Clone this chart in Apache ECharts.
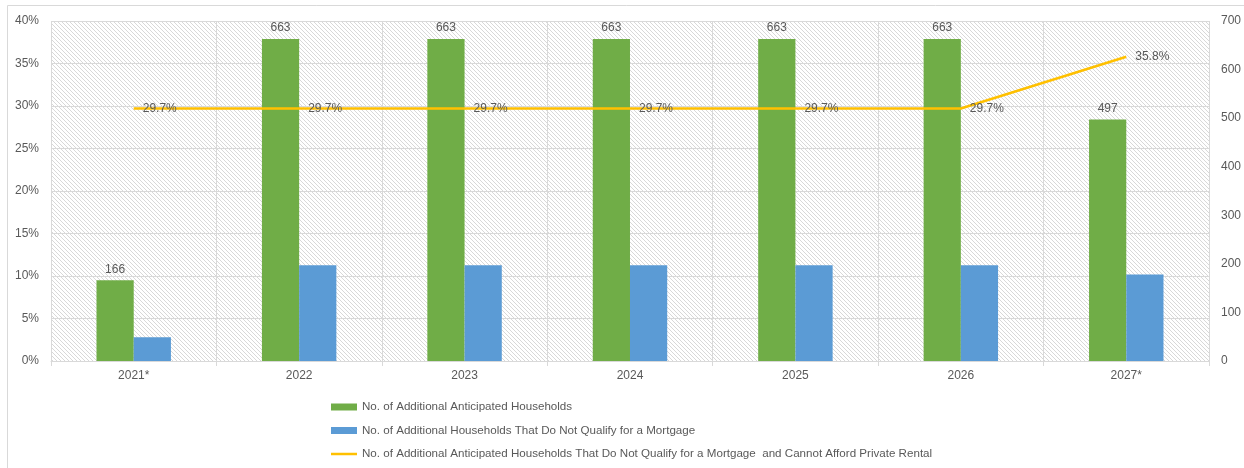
<!DOCTYPE html>
<html>
<head>
<meta charset="utf-8">
<script src="https://cdn.jsdelivr.net/npm/echarts@6/dist/echarts.min.js"></script>
<style>
html,body{margin:0;padding:0;background:#fff;}
#c{width:1244px;height:468px;}
</style>
</head>
<body>
<div id="c"></div>
<script>
const categories = ['2021*', '2022', '2023', '2024', '2025', '2026', '2027*'];
const anticipated = [166, 663, 663, 663, 663, 663, 497];
const notQualify = [49, 197, 197, 197, 197, 197, 178];
const cannotAfford = [0.297, 0.297, 0.297, 0.297, 0.297, 0.297, 0.358];
const seriesNames = [
  'No. of Additional Anticipated Households',
  'No. of Additional Households That Do Not Qualify for a Mortgage',
  'No. of Additional Anticipated Households That Do Not Qualify for a Mortgage  and Cannot Afford Private Rental'
];

function hatch() {
  const s = 4;
  const cv = document.createElement('canvas');
  cv.width = s; cv.height = s;
  const ctx = cv.getContext('2d');
  ctx.fillStyle = '#ffffff';
  ctx.fillRect(0, 0, s, s);
  ctx.strokeStyle = '#d8d8d8';
  ctx.lineWidth = 1;
  ctx.beginPath();
  ctx.moveTo(-1, -1); ctx.lineTo(s + 1, s + 1);
  ctx.moveTo(-1 - s, -1); ctx.lineTo(1, s + 1);
  ctx.moveTo(s - 1, -1); ctx.lineTo(2 * s + 1, s + 1);
  ctx.stroke();
  return cv;
}

const font = 'Liberation Sans';
const grey = '#595959';
const chart = echarts.init(document.getElementById('c'), null, {renderer: 'canvas'});
chart.setOption({
  animation: false,
  textStyle: {fontFamily: font},
  graphic: [{
    type: 'rect', z: -10,
    shape: {x: 7.5, y: 5.5, width: 1400, height: 600},
    style: {fill: 'none', stroke: '#d9d9d9', lineWidth: 1}
  }],
  grid: {
    left: 51, right: 33, top: 21, bottom: 107,
    show: true,
    borderWidth: 0,
    backgroundColor: {image: hatch(), repeat: 'repeat'}
  },
  legend: {
    orient: 'vertical',
    left: 326, top: 396,
    itemWidth: 26, itemHeight: 7, itemGap: 11.5,
    textStyle: {color: grey, fontSize: 11.6, fontFamily: font},
    data: [
      {name: seriesNames[0], icon: 'rect'},
      {name: seriesNames[1], icon: 'rect'},
      {name: seriesNames[2], icon: 'path://M0,0 H26 V2.5 H0 Z'}
    ]
  },
  xAxis: {
    type: 'category',
    data: categories,
    axisLine: {lineStyle: {color: '#d9d9d9'}},
    axisTick: {show: true, length: 5, lineStyle: {color: '#d9d9d9'}},
    axisLabel: {color: grey, fontSize: 12, margin: 9},
    splitLine: {show: true, lineStyle: {color: '#d9d9d9'}}
  },
  yAxis: [{
    type: 'value', min: 0, max: 0.4, interval: 0.05,
    axisLine: {show: false}, axisTick: {show: false},
    axisLabel: {color: grey, fontSize: 12, margin: 12,
      formatter: v => Math.round(v * 100) + '%'},
    splitLine: {show: true, lineStyle: {color: '#d9d9d9'}}
  }, {
    type: 'value', min: 0, max: 700, interval: 100,
    axisLine: {show: false}, axisTick: {show: false},
    axisLabel: {color: grey, fontSize: 12, margin: 12},
    splitLine: {show: false}
  }],
  series: [{
    name: seriesNames[0], type: 'bar', yAxisIndex: 1,
    data: anticipated, barWidth: '22.5%', barGap: '0%',
    itemStyle: {color: '#70AD47'},
    label: {show: true, position: 'top', distance: 5, color: grey, fontSize: 12}
  }, {
    name: seriesNames[1], type: 'bar', yAxisIndex: 1,
    data: notQualify, barWidth: '22.5%', barGap: '0%',
    itemStyle: {color: '#5B9BD5'}
  }, {
    name: seriesNames[2], type: 'line', yAxisIndex: 0,
    data: cannotAfford, symbol: 'circle', symbolSize: 0.01, showSymbol: true,
    lineStyle: {color: '#FFC000', width: 2.5},
    itemStyle: {color: '#FFC000'},
    z: 5,
    label: {show: true, position: 'right', distance: 9, color: grey, fontSize: 12,
      formatter: p => (p.value * 100).toFixed(1) + '%'}
  }]
});
</script>
</body>
</html>
